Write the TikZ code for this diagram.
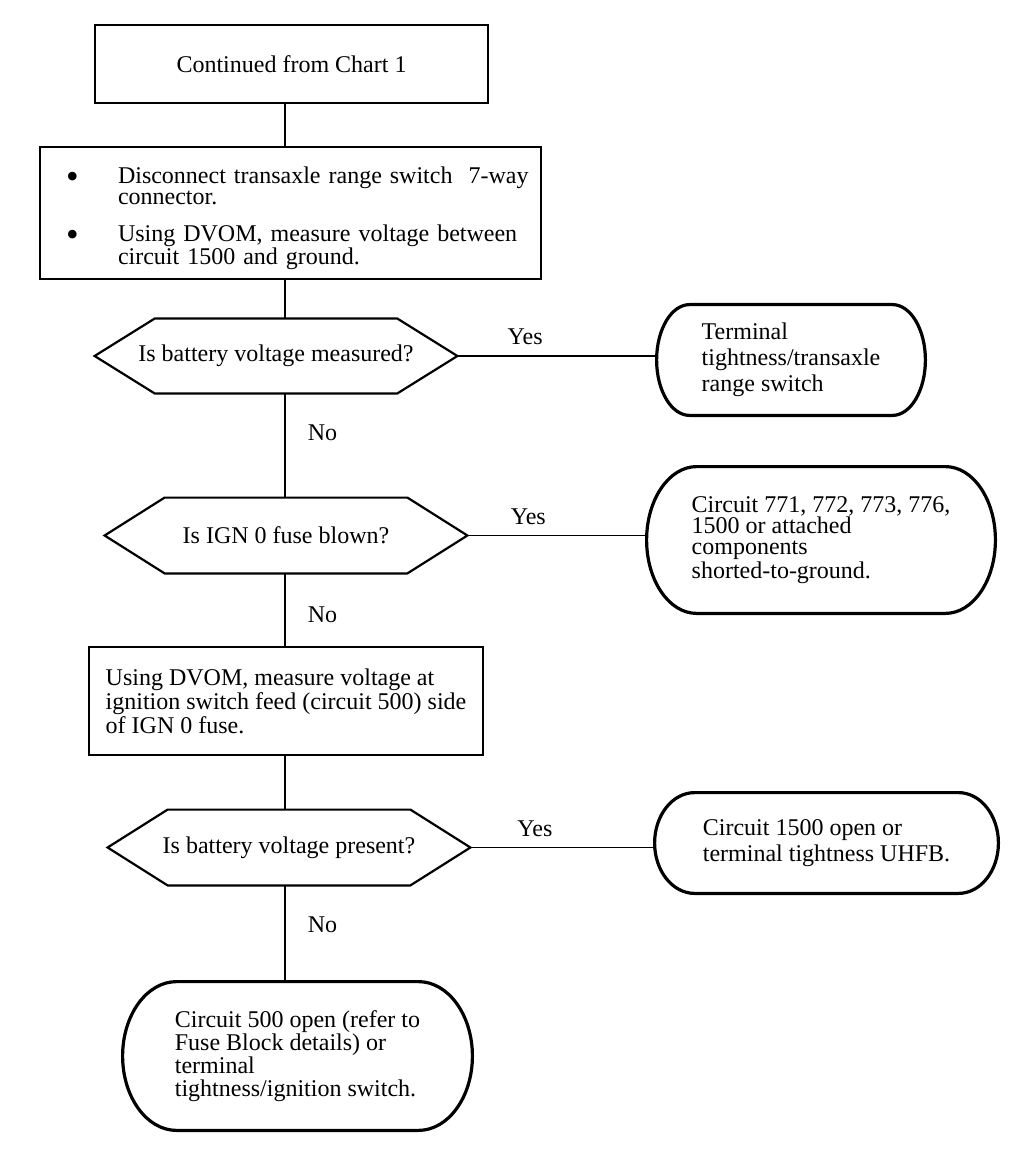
\documentclass[tikz,border=0pt]{standalone}
\usepackage{fontspec}
\setmainfont{Liberation Serif}
\usepackage{tikz}
\usetikzlibrary{calc}

\newcommand{\bul}{\hspace*{13pt}\raisebox{-2.5pt}{\fontsize{18}{18}\selectfont\textbullet}}

\tikzset{
  boxnode/.style={draw, rectangle, line width=1.2pt, inner sep=0pt, align=center},
  asknode/.style={rectangle, inner sep=0pt, align=center},
  endnode/.style={rectangle, inner sep=0pt, align=left},
  link/.style={line width=0.9pt},
  lbl/.style={inner sep=2pt}
}

\begin{document}
\begin{tikzpicture}[x=0.5pt, y=-0.5pt, font=\fontsize{12}{13}\selectfont]
\useasboundingbox (0,0) rectangle (1024,1154);
\coordinate (col) at (285,0);
\begin{scope}%[every node/.style={draw}]
    \node[boxnode, minimum width=196.5pt, minimum height=39pt] (start) at (291.5,64) {Continued from Chart 1};
    \node[boxnode, minimum width=250.5pt, minimum height=66pt, text width=250.5pt, align=left,
          font=\fontsize{12}{10.5}\selectfont] (step1) at (290.5,213)
        {\noindent\begin{tabular}{@{}p{39pt}@{}l@{}}
         \rule{0pt}{14.5pt}\bul & Disconnect transaxle range switch\ \ 7-way\\
              & connector.\\[7pt]
         \bul & Using DVOM, measure voltage between\\
              & circuit 1500 and ground.
         \end{tabular}};
    \node[asknode, minimum width=181pt, minimum height=37pt] (q1) at (276,356) {Is battery voltage measured?};
    \node[asknode, minimum width=181pt, minimum height=37.5pt] (q2) at (286,535.5) {Is IGN 0 fuse blown?};
    \node[boxnode, minimum width=197pt, minimum height=54pt, font=\fontsize{12}{11}\selectfont, align=left] (step2) at (286,701)
        {Using DVOM, measure voltage at\\ignition switch feed (circuit 500) side\\of IGN 0 fuse.};
    \node[asknode, minimum width=181pt, minimum height=37.5pt] (q3) at (289,847.5) {Is battery voltage present?};
    \node[endnode, minimum width=134pt, minimum height=55pt] (end1) at (791,360)
        {Terminal\\tightness/transaxle\\range switch};
    \node[endnode, minimum width=174pt, minimum height=73pt, font=\fontsize{12}{10.7}\selectfont] (end2) at (821,540)
        {Circuit 771, 772, 773, 776,\\1500 or attached\\components\\shorted-to-ground.};
    \node[endnode, minimum width=171.5pt, minimum height=50pt] (end3) at (826.5,843)
        {Circuit 1500 open or\\terminal tightness UHFB.};
    \node[endnode, minimum width=174.5pt, minimum height=74pt, font=\fontsize{12}{11.5}\selectfont] (end4) at (297.5,1056)
        {Circuit 500 open (refer to\\Fuse Block details) or\\terminal\\tightness/ignition switch.};
\end{scope}
\foreach \q in {q1,q2,q3}
  \draw[line width=1.1pt] (\q.west) -- ([xshift=30pt]\q.north west) -- ([xshift=-30pt]\q.north east)
    -- (\q.east) -- ([xshift=-30pt]\q.south east) -- ([xshift=30pt]\q.south west) -- cycle;
\foreach \e/\r in {end1/16.5pt,end2/25pt,end3/20pt,end4/27pt}
  \draw[line width=1.6pt] let \p1=(\e.north west), \p2=(\e.south east) in
    (\x1+\r,\y1) -- (\x2-\r,\y1) arc[start angle=90, end angle=-90, x radius=\r, y radius={(\y1-\y2)/2}]
    -- (\x1+\r,\y2) arc[start angle=270, end angle=90, x radius=\r, y radius={(\y1-\y2)/2}] -- cycle;
\draw[link] (start.south -| col) -- (step1.north -| col);
\draw[link] (step1.south -| col) -- (q1.north -| col);
\draw[link] (q1.south -| col) -- node[lbl, right=9pt, pos=.38] (no1) {No} (q2.north -| col);
\draw[link] (q2.south -| col) -- node[lbl, right=9pt, pos=.57] (no2) {No} (step2.north -| col);
\draw[link] (step2.south -| col) -- (q3.north -| col);
\draw[link] (q3.south -| col) -- node[lbl, right=9pt, pos=.41] (no3) {No} (end4.north -| col);
\draw[link] (q1.east) -- node[lbl, above=3pt, pos=.34] (yes1) {Yes} (q1.east -| end1.west);
\draw[link] (q2.east) -- node[lbl, above=3pt, pos=.34] (yes2) {Yes} (q2.east -| end2.west);
\draw[link] (q3.east) -- node[lbl, above=3pt, pos=.35] (yes3) {Yes} (q3.east -| end3.west);
\end{tikzpicture}
\end{document}
